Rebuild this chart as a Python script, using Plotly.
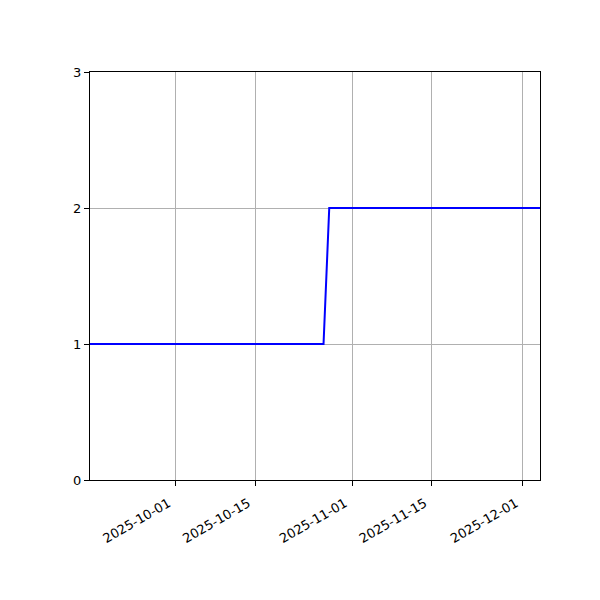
import plotly.graph_objects as go

# breakpoints of the step series
dates = ["2025-09-16", "2025-10-27", "2025-10-28", "2025-12-04"]
values = [1, 1, 2, 2]

tick_dates = ["2025-10-01", "2025-10-15", "2025-11-01", "2025-11-15", "2025-12-01"]
y_ticks = [0, 1, 2, 3]

fig = go.Figure()
fig.add_trace(go.Scatter(x=dates, y=values, mode="lines",
                         line=dict(color="blue", width=2)))

axis_style = dict(showline=True, linecolor="black", linewidth=1, mirror=True,
                  ticks="outside", ticklen=5, tickcolor="black",
                  showgrid=True, gridcolor="#b0b0b0", gridwidth=1,
                  zeroline=False, tickfont=dict(color="black", size=13))

fig.update_xaxes(type="date", range=["2025-09-16", "2025-12-04"],
                 tickvals=tick_dates, ticktext=tick_dates, tickangle=-30,
                 ticklabelshift=-7, ticklabelstandoff=5,
                 **axis_style)
fig.update_yaxes(range=[0, 3], tickvals=y_ticks, **axis_style)

# page body adds an 8px offset, so margins are shifted to compensate
fig.update_layout(width=600, height=600, showlegend=False,
                  margin=dict(l=82, r=68, t=64, b=128),
                  plot_bgcolor="white", paper_bgcolor="white",
                  font=dict(family="DejaVu Sans", color="black"))

fig.write_html("out.html")
